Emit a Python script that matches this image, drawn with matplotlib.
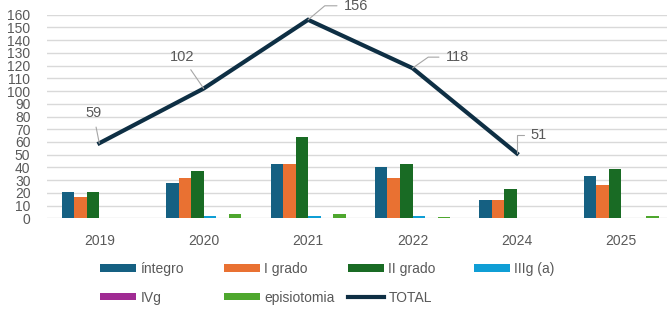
import numpy as np
import matplotlib
matplotlib.use('Agg')
import matplotlib.pyplot as plt

plt.rcParams['font.family'] = ['Liberation Sans', 'DejaVu Sans']

# datos
anos = ['2019', '2020', '2021', '2022', '2024', '2025']
integro = [21, 28, 43, 40, 14, 33]
grado1 = [17, 32, 43, 32, 14, 26]
grado2 = [21, 37, 64, 43, 23, 39]
grado3a = [0, 2, 2, 2, 0, 0]
grado4 = [0, 0, 0, 0, 0, 0]
episiotomia = [0, 3, 3, 1, 0, 2]
total = [59, 102, 156, 118, 51]

series = [('íntegro', integro, '#156082'),
          ('I grado', grado1, '#E97132'),
          ('II grado', grado2, '#196B24'),
          ('IIIg (a)', grado3a, '#0F9ED5'),
          ('IVg', grado4, '#A02B93'),
          ('episiotomia', episiotomia, '#4EA72E')]

W, H = 667, 318
fig = plt.figure(figsize=(W / 100, H / 100), dpi=100)
# area del grafico (px)
x0, x1 = 47.1, 673.5
y0, y1 = 218.3, 14.7
ax = fig.add_axes([x0 / W, 1 - y0 / H, (x1 - x0) / W, (y0 - y1) / H])

x = np.arange(len(anos))
w = 0.12
handles = {}
for i, (nombre, vals, col) in enumerate(series):
    b = ax.bar(x + (i - 2.5) * w, vals, w, color=col, zorder=3, label=nombre)
    handles[nombre] = b

linea, = ax.plot(x[:len(total)], total, color='#0E2F44', lw=3, zorder=4,
                 solid_joinstyle='miter', label='TOTAL')
handles['TOTAL'] = linea

# etiquetas de datos con linea guia (offset en px, angulo del tramo junto al punto)
offs = [(-6, 30, None), (-22, 32, None), (48, 14, 40), (45, 11, 35), (22, 18, 90)]
for xi, v, (dx, dy, ang) in zip(x, total, offs):
    cs = 'arc3' if ang is None else 'angle,angleA=0,angleB=%d,rad=0' % ang
    ax.annotate(str(v), (xi, v), xytext=(dx, dy), textcoords='offset pixels',
                ha='center', va='center', fontsize=10.5, color='#595959',
                annotation_clip=False, zorder=5,
                arrowprops=dict(arrowstyle='-', color='#A6A6A6', lw=0.8,
                                shrinkA=3, shrinkB=0, connectionstyle=cs))

ax.set_xlim(-0.5, len(anos) - 0.5)
ax.set_ylim(0, 160)
ax.set_yticks(np.arange(0, 161, 10))
ax.set_xticks(x)
ax.set_xticklabels(anos)
ax.grid(axis='y', color='#D9D9D9', lw=1, zorder=0)
for s in ax.spines.values():
    s.set_visible(False)
ax.tick_params(axis='y', length=0, pad=12, labelsize=10, labelcolor='#595959')
ax.tick_params(axis='x', length=0, pad=11, labelsize=10, labelcolor='#595959')

# leyenda en columnas como en excel
cols = [(100, ['íntegro', 'IVg']), (224, ['I grado', 'episiotomia']),
        (348, ['II grado', 'TOTAL']), (474, ['IIIg (a)'])]
for cx, nombres in cols:
    leg = fig.legend([handles[n] for n in nombres], nombres,
                     loc='upper left', bbox_to_anchor=(cx / W, 1 - 262 / H),
                     frameon=False, fontsize=10, handlelength=2.6,
                     handleheight=0.45, handletextpad=0.3, labelspacing=1.05,
                     borderaxespad=0, borderpad=0, labelcolor='#595959')

fig.savefig('out.png', dpi=100)
